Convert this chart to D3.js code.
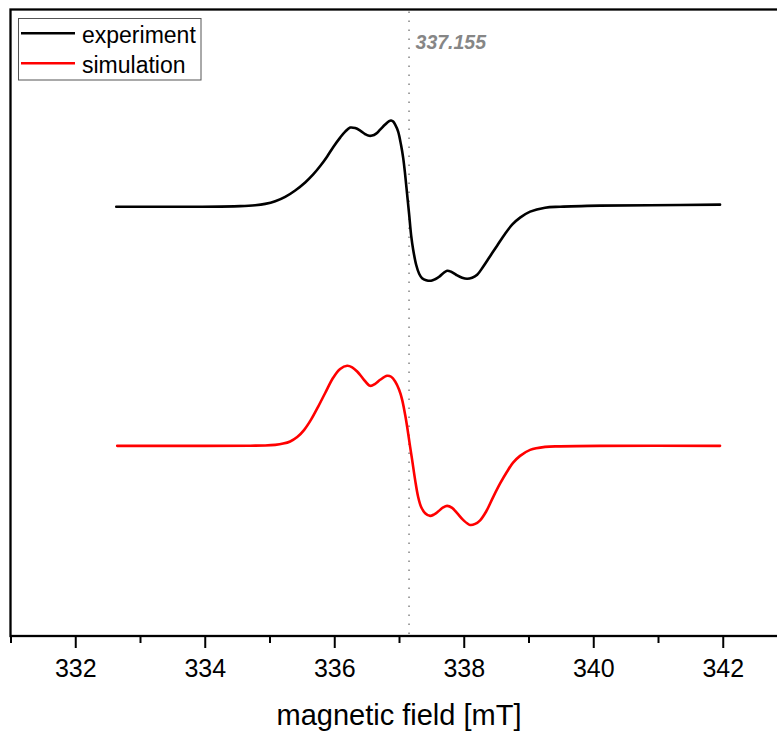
<!DOCTYPE html>
<html>
<head>
<meta charset="utf-8">
<script src="https://cdn.jsdelivr.net/npm/d3@7"></script>
<style>
  html, body { margin: 0; padding: 0; background: #fff; }
  svg { display: block; font-family: "Liberation Sans", Arial, sans-serif; }
</style>
</head>
<body>
<svg id="chart" width="777" height="732"></svg>
<script>
// ---- data ----
const expField = [332.633,333.158,333.930,334.547,334.779,334.933,335.088,335.242,335.397,335.551,335.675,335.783,335.891,335.983,336.091,336.169,336.246,336.323,336.400,336.477,336.524,336.585,336.647,336.709,336.786,336.848,336.879,336.910,336.941,336.987,337.033,337.064,337.095,337.126,337.157,337.188,337.219,337.265,337.311,337.357,337.419,337.496,337.558,337.620,337.682,337.743,337.805,337.882,337.975,338.052,338.129,338.207,338.299,338.407,338.515,338.639,338.747,338.870,339.025,339.256,339.488,340.106,340.878,341.958];
const expIntensity = [-0.013,-0.013,-0.013,-0.006,0.005,0.022,0.055,0.11,0.19,0.29,0.39,0.495,0.615,0.73,0.85,0.925,0.975,0.969,0.938,0.894,0.875,0.875,0.9,0.95,1.013,1.056,1.063,1.05,1.013,0.925,0.75,0.6,0.388,0.138,-0.113,-0.375,-0.55,-0.738,-0.85,-0.906,-0.931,-0.938,-0.919,-0.888,-0.844,-0.813,-0.825,-0.863,-0.9,-0.913,-0.9,-0.863,-0.763,-0.631,-0.5,-0.35,-0.238,-0.15,-0.075,-0.025,-0.013,0,0.006,0.013];

const simField = [332.648,333.930,334.702,334.933,335.088,335.211,335.319,335.428,335.536,335.644,335.752,335.860,335.983,336.091,336.199,336.277,336.354,336.447,336.555,336.632,336.709,336.817,336.879,336.941,337.002,337.049,337.095,337.126,337.172,337.203,337.249,337.296,337.342,337.404,337.481,337.543,337.604,337.682,337.743,337.821,337.898,337.990,338.099,338.176,338.253,338.346,338.454,338.562,338.670,338.762,338.870,339.025,339.256,339.488,340.106,341.958];
const simIntensity = [0,0,0.002,0.004,0.012,0.028,0.055,0.11,0.2,0.33,0.49,0.66,0.85,0.96,1.0,0.981,0.929,0.838,0.75,0.775,0.825,0.875,0.863,0.804,0.7,0.575,0.388,0.238,-0.013,-0.175,-0.425,-0.638,-0.763,-0.841,-0.875,-0.856,-0.821,-0.769,-0.75,-0.775,-0.841,-0.925,-0.988,-0.975,-0.93,-0.82,-0.64,-0.47,-0.32,-0.21,-0.125,-0.05,-0.013,-0.006,0,0];

const seriesNames = ["experiment", "simulation"];
const seriesColors = ["#000000", "#ff0000"];
const seriesOffsets = [3, 0];

const majorTicks = [332, 334, 336, 338, 340, 342];
const minorTicks = [331, 333, 335, 337, 339, 341, 343];
const markerField = 337.155;
const markerLabel = "337.155";
const xTitle = "magnetic field [mT]";

// ---- layout ----
const svg = d3.select("#chart");
const mLeft = 10.5, mRight = 787.5, mTop = 9.5, mBottom = 636;

const x = d3.scaleLinear().domain([331, 343]).range([mLeft, mRight]);
const y = d3.scaleLinear().domain([-2.375, 5.45]).range([mBottom, mTop]);

// marker line
svg.append("line")
  .attr("x1", x(markerField)).attr("x2", x(markerField))
  .attr("y1", mTop + 2).attr("y2", mBottom)
  .attr("stroke", "#8c8c8c").attr("stroke-width", 1.6)
  .attr("stroke-dasharray", "1.6,7.4");

svg.append("text")
  .attr("x", x(markerField) + 6.5).attr("y", 49)
  .attr("font-size", 19.5).attr("font-weight", "bold").attr("font-style", "italic")
  .attr("fill", "#868686")
  .text(markerLabel);

// curves
const line = d3.line().curve(d3.curveCatmullRom.alpha(0.5));
const series = [
  { f: expField, v: expIntensity },
  { f: simField, v: simIntensity }
];
series.forEach((s, i) => {
  const pts = s.f.map((f, j) => [x(f), y(s.v[j] + seriesOffsets[i])]);
  svg.append("path")
    .attr("d", line(pts))
    .attr("fill", "none")
    .attr("stroke", seriesColors[i])
    .attr("stroke-width", 2.6)
    .attr("stroke-linejoin", "round")
    .attr("stroke-linecap", "round");
});

// axes
const gMinor = svg.append("g").attr("transform", `translate(0,${mBottom})`)
  .call(d3.axisBottom(x).tickValues(minorTicks).tickSize(7).tickFormat(""));
const gMajor = svg.append("g").attr("transform", `translate(0,${mBottom})`)
  .call(d3.axisBottom(x).tickValues(majorTicks).tickSize(12).tickPadding(11).tickFormat(d3.format("d")));
[gMinor, gMajor].forEach(g => {
  g.select(".domain").remove();
  g.selectAll(".tick line").attr("stroke", "#000").attr("stroke-width", 2);
});
gMajor.selectAll(".tick text")
  .attr("font-size", 25).attr("fill", "#000")
  .attr("font-family", "Liberation Sans, Arial, sans-serif");

// frame
svg.append("rect")
  .attr("x", mLeft).attr("y", mTop)
  .attr("width", mRight - mLeft).attr("height", mBottom - mTop)
  .attr("fill", "none").attr("stroke", "#000").attr("stroke-width", 2.3);

// x title
svg.append("text")
  .attr("x", (mLeft + mRight) / 2).attr("y", 725)
  .attr("text-anchor", "middle")
  .attr("font-size", 29).attr("fill", "#000")
  .text(xTitle);

// legend
const lg = svg.append("g");
lg.append("rect")
  .attr("x", 18.5).attr("y", 18.5).attr("width", 182.5).attr("height", 61.5)
  .attr("fill", "#fff").attr("stroke", "#555").attr("stroke-width", 1);
seriesNames.forEach((n, i) => {
  const yy = 33.3 + i * 30;
  lg.append("line")
    .attr("x1", 21).attr("x2", 75).attr("y1", yy).attr("y2", yy)
    .attr("stroke", seriesColors[i]).attr("stroke-width", 2.5);
  lg.append("text")
    .attr("x", 82).attr("y", yy + 9.8)
    .attr("font-size", 23).attr("fill", "#000")
    .text(n);
});
</script>
</body>
</html>
